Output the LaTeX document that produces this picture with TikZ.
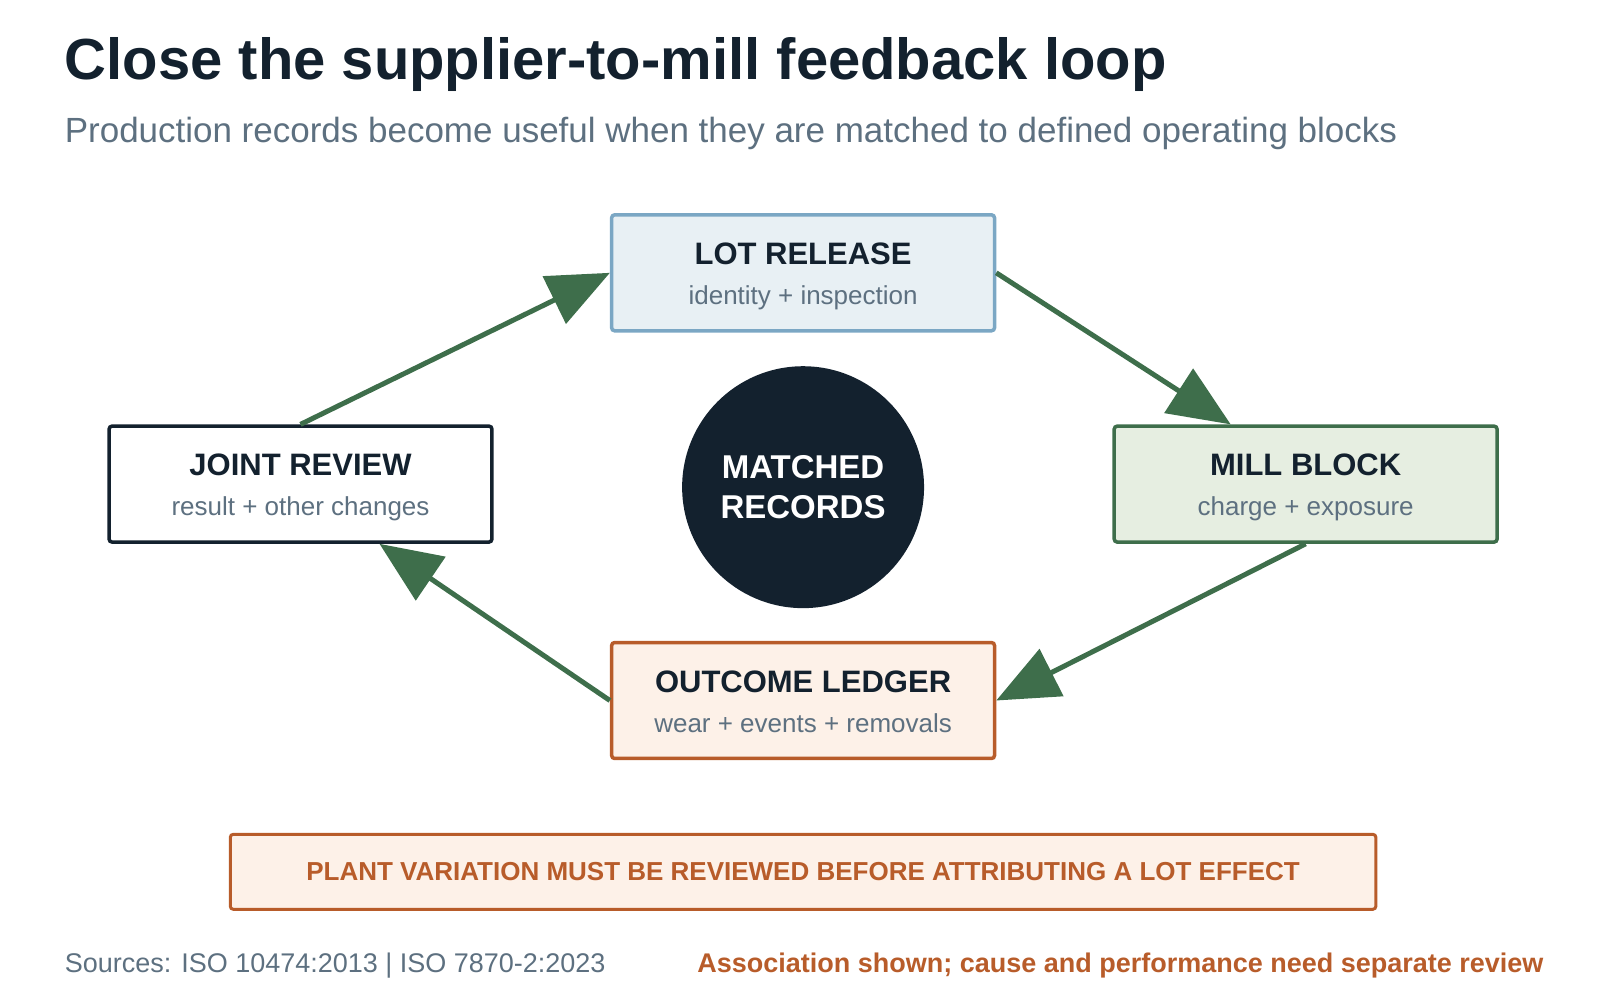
\documentclass[tikz,border=0pt]{standalone}
\usepackage{fontspec}
\setmainfont{Liberation Sans}
\usetikzlibrary{arrows.meta}
\definecolor{ink}{HTML}{13212E}
\definecolor{grey}{HTML}{5D7080}
\definecolor{grn}{HTML}{3E6E4B}
\definecolor{rust}{HTML}{B85C2A}
\definecolor{bluefill}{HTML}{E8F0F4}
\definecolor{blueline}{HTML}{7BA7C4}
\definecolor{grnfill}{HTML}{E6EEE1}
\definecolor{rustfill}{HTML}{FDF1E8}
\newcommand{\fs}[1]{\fontsize{#1pt}{1.2\dimexpr #1pt\relax}\selectfont}
\tikzset{
 stage/.style={rounded corners=3pt,line width=3.5pt,minimum width=383pt,minimum height=116pt},
 stitle/.style={anchor=base,text=ink,font=\bfseries\fs{31}},
 ssub/.style={anchor=base,text=grey,font=\fs{26}},
 flow/.style={grn,line width=5pt,-{Triangle[length=62pt,width=52pt]}},
}
\begin{document}
\begin{tikzpicture}[x=1.026pt,y=-1.026pt]
\useasboundingbox (0,0) rectangle (1560,975);
\node[anchor=base west,inner sep=0pt,text=ink,font=\bfseries\fs{58}] (title) at (63,78) {Close the supplier-to-mill feedback loop};
\node[anchor=base west,inner sep=0pt,text=grey,font=\fs{35}] (sub) at (63,139) {Production records become useful when they are matched to defined operating blocks};
\node[stage,draw=blueline,fill=bluefill] (lot) at (783,266) {};
\node[stage,draw=grn,fill=grnfill] (mill) at (1273,472) {};
\node[stage,draw=ink,fill=white] (joint) at (293,472) {};
\node[stage,draw=rust,fill=rustfill] (out) at (783,683) {};
\node[stitle] (lott) at (783,258) {LOT RELEASE};
\node[ssub] (lots) at (783,297) {identity + inspection};
\node[stitle] (millt) at (1273,464) {MILL BLOCK};
\node[ssub] (mills) at (1273,503) {charge + exposure};
\node[stitle] (jointt) at (293,464) {JOINT REVIEW};
\node[ssub] (joints) at (293,503) {result + other changes};
\node[stitle] (outt) at (783,675) {OUTCOME LEDGER};
\node[ssub] (outs) at (783,714) {wear + events + removals};
\node[circle,fill=ink,minimum size=242pt,text=white,align=center,font=\bfseries\fs{33}] (c) at (783,475) {MATCHED\\RECORDS};
\draw[flow] (joint.north) -- (lot.west);
\draw[flow] (lot.east) -- ([xshift=-75pt]mill.north);
\draw[flow] (mill.south) -- (out.east);
\draw[flow] (out.west) -- ([xshift=79pt]joint.south);
\node[rounded corners=3pt,line width=3pt,draw=rust,fill=rustfill,minimum width=1146pt,minimum height=75pt,text=rust,font=\bfseries\fs{26}] (ban) at (783,850) {PLANT VARIATION MUST BE REVIEWED BEFORE ATTRIBUTING A LOT EFFECT};
\node[anchor=base west,inner sep=0pt,text=grey,font=\fs{27}] (src) at (63,948) {Sources: ISO 10474:2013 | ISO 7870-2:2023};
\node[anchor=base east,inner sep=0pt,text=rust,font=\bfseries\fs{27}] (note) at (1505,948) {Association shown; cause and performance need separate review};
\end{tikzpicture}
\end{document}
